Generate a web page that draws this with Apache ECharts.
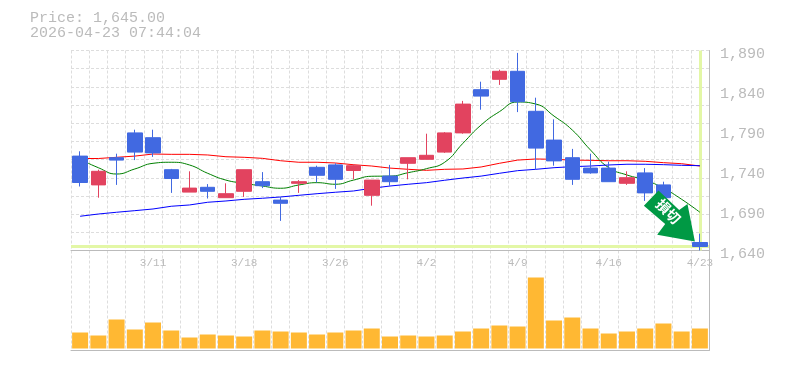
<!DOCTYPE html>
<html>
<head>
<meta charset="utf-8">
<style>html,body{margin:0;padding:0;background:#fff}#c{width:785px;height:370px}</style>
<script src="https://cdn.jsdelivr.net/npm/echarts@6/dist/echarts.min.js"></script>
</head>
<body>
<div id="c"></div>
<script>
const titleLines = ['Price: 1,645.00', '2026-04-23 07:44:04'];
const lastPrice = 1645;
const categories = ['3/5','3/6','3/9','3/10','3/11','3/12','3/13','3/16','3/17','3/18','3/19','3/23','3/24','3/25','3/26','3/27','3/30','3/31','4/1','4/2','4/3','4/6','4/7','4/8','4/9','4/10','4/13','4/14','4/15','4/16','4/17','4/20','4/21','4/22','4/23'];
const shownLabels = ['3/11','3/18','3/26','4/2','4/9','4/16','4/23'];
const priceTicks = [1640,1690,1740,1790,1840,1890];
const opens  = [1758,1722,1756,1787,1781,1741,1713,1719,1706,1714,1726,1703,1724,1744,1747,1740,1709,1733,1749,1754,1763,1787,1841,1854,1864,1814,1778,1756,1743,1743,1724,1737,1722,1684,1650];
const closes = [1725,1739,1753,1763,1762,1730,1718,1714,1711,1741,1721,1699,1726,1734,1729,1746,1728,1726,1756,1759,1787,1823,1833,1864,1826,1768,1752,1729,1737,1726,1731,1712,1706,1659,1645];
const lows   = [1720,1706,1722,1753,1757,1712,1713,1705,1706,1707,1718,1677,1712,1725,1717,1729,1696,1721,1729,1754,1762,1786,1816,1847,1813,1741,1746,1722,1736,1726,1722,1702,1700,1655,1640];
const highs  = [1764,1741,1761,1791,1791,1742,1739,1723,1724,1741,1738,1707,1728,1746,1749,1748,1728,1747,1756,1786,1788,1827,1851,1866,1887,1831,1804,1767,1761,1751,1739,1743,1726,1688,1661];
const maRed  = [1755,1755,1756.5,1758,1760.6,1760.2,1760.2,1759.4,1757.2,1756.5,1755.2,1752.2,1750.3,1750.3,1749.4,1747.2,1745.6,1743,1741.5,1740.2,1741.5,1741.9,1744.4,1749,1753,1754.4,1754,1753,1752.7,1752.2,1752.2,1751.5,1749.8,1748.5,1745.6];
const maBlue = [1682.8,1685.6,1687.8,1689.8,1691.9,1695.3,1696.9,1700.3,1701.9,1704,1705.3,1706.9,1709,1711,1712.8,1714.4,1717.8,1720.6,1722.8,1724.8,1727.8,1730.6,1733,1736.5,1739.8,1741.5,1743.5,1744.8,1745.6,1746.9,1747.8,1747.8,1747.3,1746.5,1746];
const maGreen= [1754,1743.5,1735.6,1741.9,1749,1750.3,1746.9,1736.5,1728,1724,1720.6,1717.8,1721.9,1724.8,1722.8,1728,1732.8,1733,1737.3,1742.3,1750.3,1774,1796.9,1813.5,1825.6,1823.1,1808,1790.6,1765.6,1743.5,1734.4,1728,1717.8,1704,1687.8];
const volumes= [16,13,29,19,26,18,11,14,13,12,18,17,16,14,16,18,20,12,13,12,13,17,20,23,22,71,28,31,20,15,17,20,25,17,20];
const arrowLabel = '損切';

const GRAY = '#bbbbbb', GRID = '#dddddd', FONT = '"Liberation Mono", monospace';
const dash = {show:true, lineStyle:{color:GRID, type:[3,2], width:1}};
const fmt = v => String(v).replace(/(\d)(\d{3})$/, '$1,$2');

const chart = echarts.init(document.getElementById('c'), null, {renderer:'canvas'});
chart.setOption({
  animation:false,
  backgroundColor:'#fff',
  title:[
    {text:titleLines[0], left:25, top:6, textStyle:{color:GRAY, fontFamily:FONT, fontSize:15, fontWeight:'normal'}},
    {text:titleLines[1], left:25, top:21, textStyle:{color:GRAY, fontFamily:FONT, fontSize:15, fontWeight:'normal'}}
  ],
  grid:[
    {left:71, right:76, top:50.5, height:200},
    {left:71, right:76, top:250.5, height:100}
  ],
  xAxis:[
    {type:'category', gridIndex:0, data:categories, boundaryGap:true,
     axisLine:{show:true, onZero:false, lineStyle:{color:GRAY}}, axisTick:{show:false},
     splitLine:Object.assign({interval:0}, dash),
     axisLabel:{show:true, interval:(i,v)=>shownLabels.includes(v), color:GRAY, fontFamily:FONT, fontSize:11, margin:7, hideOverlap:false}},
    {type:'category', gridIndex:1, data:categories, boundaryGap:true,
     axisLine:{show:true, onZero:false, lineStyle:{color:GRAY}}, axisTick:{show:false},
     splitLine:Object.assign({interval:0}, dash), axisLabel:{show:false}}
  ],
  yAxis:[
    {type:'value', gridIndex:0, position:'right', min:1640, max:1890, scale:true,
     axisLine:{show:true, lineStyle:{color:GRAY}}, axisTick:{show:false}, splitLine:{show:false},
     axisLabel:{show:true, customValues:priceTicks, formatter:fmt, color:GRAY, fontFamily:FONT, fontSize:15, margin:11, verticalAlign:'top', lineHeight:8}},
    {type:'value', gridIndex:0, position:'left', min:0, max:11, interval:1,
     axisLine:{show:false}, axisTick:{show:false}, axisLabel:{show:false}, splitLine:dash},
    {type:'value', gridIndex:1, position:'right', min:-2, max:98,
     axisLine:{show:true, lineStyle:{color:GRAY}}, axisTick:{show:false}, axisLabel:{show:false}, splitLine:{show:false}}
  ],
  series:[
    {type:'line', xAxisIndex:0, yAxisIndex:0, data:maRed, showSymbol:false, z:2, lineStyle:{color:'#ff0000', width:1}},
    {type:'line', xAxisIndex:0, yAxisIndex:0, data:maGreen, smooth:true, showSymbol:false, z:2, lineStyle:{color:'#008000', width:1}},
    {type:'line', xAxisIndex:0, yAxisIndex:0, data:maBlue, showSymbol:false, z:2, lineStyle:{color:'#0000ff', width:1},
     markLine:{silent:true, symbol:'none', z:1, label:{show:false}, animation:false,
       lineStyle:{color:'#e3f7a6', width:3, type:'solid'},
       data:[{yAxis:lastPrice},{xAxis:categories[categories.length-1]}]}},
    {type:'candlestick', xAxisIndex:0, yAxisIndex:0, z:3, barWidth:15,
     data:categories.map((c,i)=>[opens[i],closes[i],lows[i],highs[i]]),
     itemStyle:{color:'#e2435f', color0:'#4169e1', borderColor:'#e2435f', borderColor0:'#4169e1', borderWidth:1},
     markPoint:{silent:true, z:6, animation:false,
       data:[{coord:[categories[categories.length-1], lastPrice],
         symbol:'path://M14.6 0L0 15.3L21.3 33.6L13.3 44.3L51 51L43.6 13.6L35.3 19.6Z',
         symbolSize:51, symbolKeepAspect:true, symbolOffset:[-30.5,-30.5],
         itemStyle:{color:'#009944'},
         label:{show:true, formatter:arrowLabel, position:'inside', rotate:-45, offset:[-4,-2.5],
           color:'#fff', fontSize:14, fontWeight:'bold', fontFamily:'"Noto Sans CJK JP", sans-serif'}}]}},
    {type:'bar', xAxisIndex:1, yAxisIndex:2, data:volumes, barWidth:16, itemStyle:{color:'#ffb833'}}
  ]
});
</script>
</body>
</html>
